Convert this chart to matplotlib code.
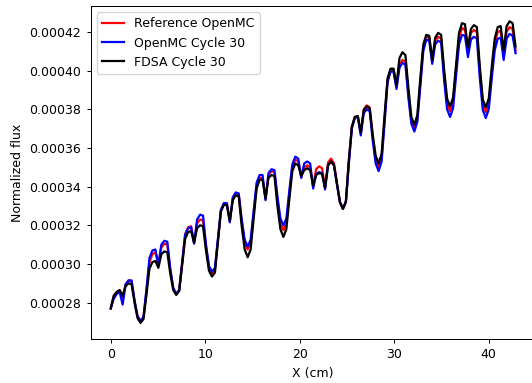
import numpy as np
import matplotlib
matplotlib.use("Agg")
import matplotlib.pyplot as plt
from matplotlib.ticker import FormatStrFormatter

# Mesh: 34 pin cells of 1.26 cm, 4 points per pin (+ end point)
x_cm = np.linspace(0.0, 42.84, 137)

# Normalized flux values in units of 1e-6
ref_openmc_e6 = [
    277, 283.5, 285.5, 286.5,   283, 289.5, 291.5, 291,     281, 273, 270.5, 272.5,
    286, 301, 305, 306,         300, 308.5, 310.5, 310,     297, 287.5, 284.5, 286.5,
    301, 315.5, 319, 319.5,     311, 321, 323, 322.5,       309, 298, 295, 297,
    312, 327.5, 331, 331,       322, 333.5, 336, 335.5,     322, 311, 307.5, 311,
    326, 340, 344.5, 344.5,     333.5, 346, 348, 347.5,     333, 321, 317.5, 321,
    336, 350, 354, 353,         345, 350, 351, 350,         340, 349, 350.5, 349.5,
    339.5, 352.5, 354.5, 352,   342, 332, 328.5, 332,
    353, 371, 376, 376.5,       367.5, 380, 382, 381,       366, 354, 350, 355,
    375, 395, 400.5, 400.5,     391.5, 403, 405.5, 404.5,   388, 374, 370, 375,
    394, 412, 417.5, 417,       404.5, 415.5, 417.5, 416.5, 398, 383, 379, 383.5,
    400, 417, 422, 421,         410, 419.5, 421, 420,       399, 382.5, 378.5, 383,
    399, 414, 420, 420.5,       408.5, 420, 422.5, 421.5,
    410.5,
]

openmc_c30_e6 = [
    277, 282, 284.5, 285.5,     279, 289.5, 291.5, 291.5,   281, 273, 270.5, 272.5,
    287, 303, 307, 307.5,       299.5, 310, 312, 311.5,     297.5, 287.5, 284.5, 286.5,
    301, 315, 318.5, 319,       310.5, 323, 325.5, 325,     310, 299, 296, 298,
    313, 328, 331.5, 331.5,     321.5, 334.5, 337, 336.5,   323, 312.5, 309, 312.5,
    327.5, 342, 346, 346,       333, 347, 349, 348.5,       335, 323.5, 320, 323.5,
    338, 351.5, 355.5, 354.5,   344.5, 352, 353, 352,       339, 346.5, 347.5, 347,
    338.5, 351, 353, 351,       341, 332, 328.5, 332,
    352, 370, 375.5, 376,       366.5, 378, 380, 379,       364, 352, 348, 353,
    373, 394, 399.5, 399.5,     390.5, 401.5, 404, 403,     386, 372.5, 368.5, 373.5,
    392, 410, 416, 415.5,       403.5, 413.5, 415.5, 414.5, 395, 380, 376, 380.5,
    397, 413.5, 418.5, 418,     407, 416, 417.5, 416.5,     396, 379.5, 375.5, 380,
    396, 410.5, 416.5, 417,     405.5, 416.5, 419, 418,
    409,
]

fdsa_c30_e6 = [
    277, 283.5, 285.5, 286.5,   283.5, 288.5, 290, 289.5,   280, 272, 269.5, 271.5,
    284, 297.5, 301, 301.5,     298, 305, 306.5, 306,       295, 286.5, 284, 286,
    299.5, 313, 316.5, 317,     311, 318.5, 320, 319.5,     307, 296.5, 293.5, 295.5,
    311, 327, 330.5, 330.5,     322.5, 333, 335.5, 335,     319.5, 307.5, 303.5, 307.5,
    323.5, 339, 343.5, 343.5,   334, 344.5, 346, 345.5,     330, 318, 314, 318,
    333.5, 348, 352, 351,       345.5, 348.5, 349.5, 348.5, 340.5, 346, 347, 346.5,
    339.5, 351, 353, 351,       341.5, 332, 328.5, 332.5,
    354, 371, 376, 376.5,       368, 379.5, 381.5, 380.5,   367, 356, 352, 357,
    377, 396, 401, 401,         392.5, 406.5, 409.5, 408,   391, 376, 372, 377,
    396, 413.5, 418.5, 418,     405.5, 417, 419.5, 418.5,   400.5, 385.5, 381.5, 386,
    403, 419.5, 424.5, 424,     412, 421.5, 423.5, 422.5,   402, 385, 381, 385.5,
    402, 416.5, 422.5, 423,     410.5, 423, 425.5, 424.5,
    412.5,
]

series_labels = ["Reference OpenMC", "OpenMC Cycle 30", "FDSA Cycle 30"]
series_colors = ["red", "blue", "black"]
y_ticks = [0.00028, 0.00030, 0.00032, 0.00034, 0.00036, 0.00038, 0.00040, 0.00042]
x_ticks = [0, 10, 20, 30, 40]

plt.rcParams["font.family"] = ["DejaVu Sans"]
plt.rcParams["font.size"] = 9

W, H = 532, 383
fig = plt.figure(figsize=(W / 100, H / 100), dpi=100)
ax_left, ax_bottom = 90.5 / W, 44 / H
ax = fig.add_axes([ax_left, ax_bottom, 445.3 / W, 333 / H])

for vals, lab, col in zip([ref_openmc_e6, openmc_c30_e6, fdsa_c30_e6], series_labels, series_colors):
    ax.plot(x_cm, np.asarray(vals) * 1e-6, color=col, label=lab, linewidth=1.6)

ax.set_xlim(-2.142, 44.982)
ax.set_ylim(0.0002612, 0.0004334)
ax.set_xticks(x_ticks)
ax.set_yticks(y_ticks)
ax.yaxis.set_major_formatter(FormatStrFormatter("%.5f"))
ax.tick_params(length=3.2, width=0.72, labelsize=9)
for s in ax.spines.values():
    s.set_linewidth(0.72)
ax.set_xlabel("X (cm)", fontsize=9)
ax.set_ylabel("Normalized flux", fontsize=9)
ax.legend(loc="upper left", fontsize=9, handlelength=1.8)

fig.savefig("out.png", dpi=100)
